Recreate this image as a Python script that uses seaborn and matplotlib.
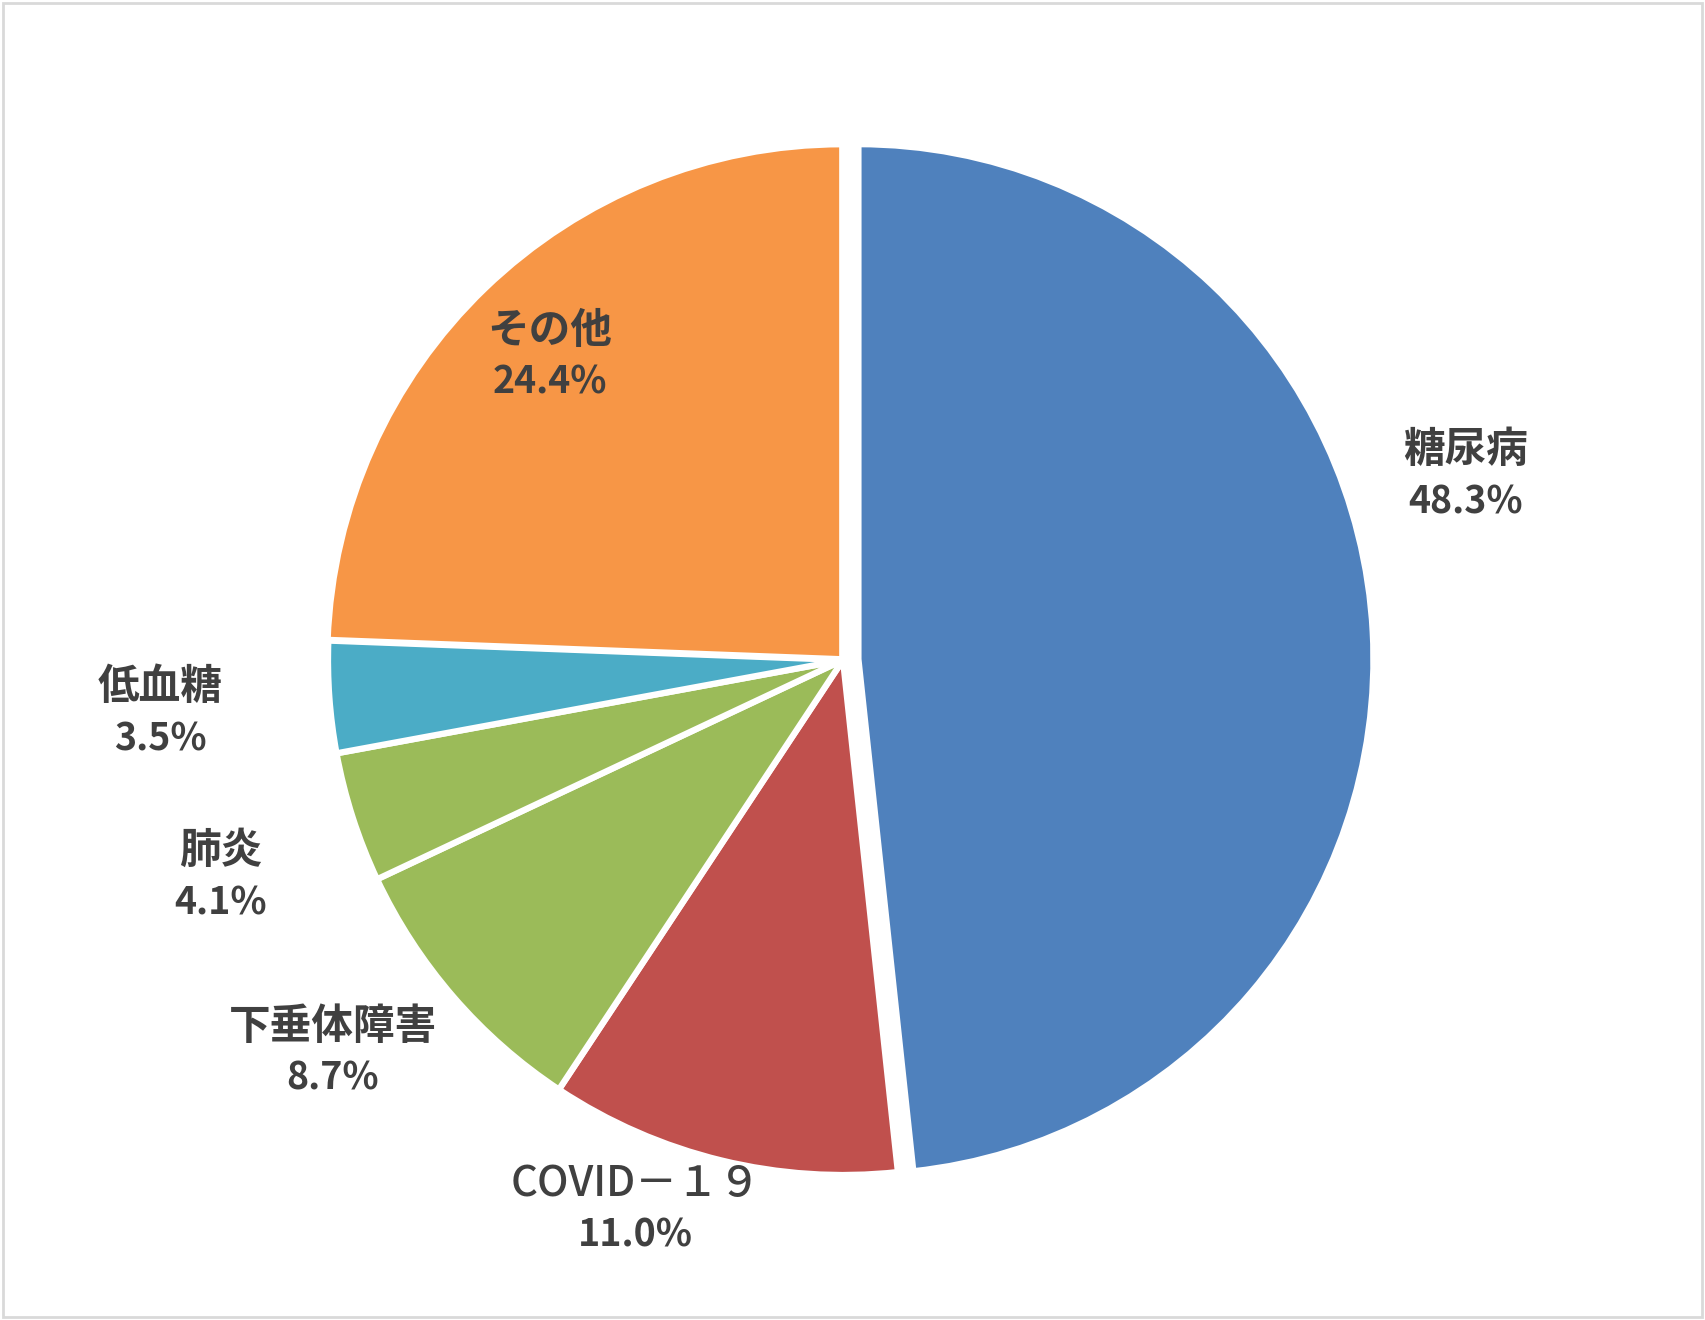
import numpy as np
import matplotlib
matplotlib.use("Agg")
import matplotlib.pyplot as plt
import seaborn as sns
from matplotlib.patches import Rectangle

# data (clockwise from 12 o'clock)
categories = ["糖尿病", "COVID－１９", "下垂体障害", "肺炎", "低血糖", "その他"]
shares = [48.3, 11.0, 8.7, 4.1, 3.5, 24.4]
colors = ["#4F81BD", "#C0504D", "#9BBB59", "#9BBB59", "#4BACC6", "#F79646"]

# label layout: radial distance (in radii) and angle tweak (deg) per slice
label_r = [1.26, 1.14, 1.25, 1.28, 1.33, 0.82]
label_dang = [13.4, -7.0, -3.3, 1.4, 0.3, 0.1]
label_weight = ["bold", "medium", "bold", "bold", "bold", "bold"]
explode = [0.03, 0.0, 0.0, 0.0, 0.0, 0.002]

sns.set_style("white")
plt.rcParams["font.family"] = ["Noto Sans CJK JP", "DejaVu Sans"]

W, H, DPI = 1705, 1320, 100
cx, cy, R = 843, 660, 515  # pixel centre and radius of the pie

fig = plt.figure(figsize=(W / DPI, H / DPI), dpi=DPI)
fig.patch.set_facecolor("white")
ax = fig.add_axes([0, 0, 1, 1])

wedges, _ = ax.pie(
    shares,
    colors=colors,
    startangle=90,
    counterclock=False,
    explode=explode,
    wedgeprops=dict(edgecolor="white", linewidth=4.5),
)
ax.set_xlim(-cx / R, (W - cx) / R)
ax.set_ylim(-(H - cy) / R, cy / R)
ax.axis("off")

for w, cat, val, r, da, wt in zip(wedges, categories, shares, label_r, label_dang, label_weight):
    mid = np.deg2rad((w.theta1 + w.theta2) / 2 + da)
    x, y = r * np.cos(mid), r * np.sin(mid)
    ax.text(x, y + 0.05, cat, ha="center", va="center", fontsize=30,
            fontweight=wt, color="#404040")
    ax.text(x, y - 0.05, f"{val:.1f}%", ha="center", va="center", fontsize=27,
            fontweight="bold", color="#404040")

# chart area border
fig.patches.append(Rectangle((0.002, 0.002), 0.996, 0.996, transform=fig.transFigure,
                             fill=False, edgecolor="#D9D9D9", linewidth=2))

fig.savefig("out.png", dpi=DPI, facecolor="white")
